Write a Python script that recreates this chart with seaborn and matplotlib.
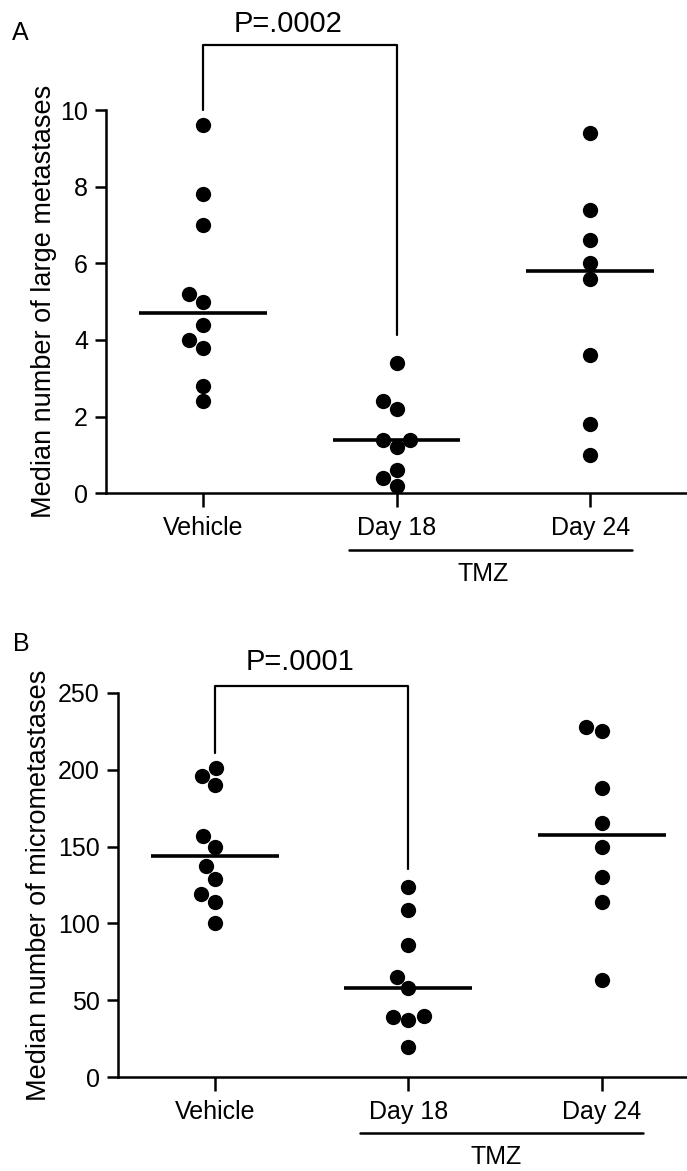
"""
TMZ 投与後の転移数（散布図 + 中央値ライン）
"""

import numpy as np
import pandas as pd
import matplotlib
matplotlib.use("Agg")
import matplotlib.pyplot as plt
import matplotlib.transforms as mtransforms
import seaborn as sns

# --- データ ---
groups = ["Vehicle", "Day 18", "Day 24"]

# A: large metastases
large_vehicle = [9.6, 7.8, 7.0, 5.2, 5.0, 4.4, 4.0, 3.8, 2.8, 2.4]
large_day18 = [3.4, 2.4, 2.2, 1.4, 1.4, 1.2, 0.6, 0.4, 0.2]
large_day24 = [9.4, 7.4, 6.6, 6.0, 5.6, 3.6, 1.8, 1.0]

# B: micrometastases
micro_vehicle = [201, 196, 190, 157, 150, 137.5, 129, 119, 114, 100]
micro_day18 = [124, 109, 86, 65, 58, 40, 39.5, 37, 20]
micro_day24 = [228, 225, 188, 165, 150, 130, 114, 63]

yticks_a = [0, 2, 4, 6, 8, 10]
yticks_b = [0, 50, 100, 150, 200, 250]


def to_long(vals_list):
    rows = []
    for g, vals in zip(groups, vals_list):
        for v in vals:
            rows.append({"group": g, "value": v})
    return pd.DataFrame(rows)


df_a = to_long([large_vehicle, large_day18, large_day24])
df_b = to_long([micro_vehicle, micro_day18, micro_day24])

sns.set_style("ticks")
plt.rcParams["font.family"] = ["Liberation Sans", "DejaVu Sans"]
plt.rcParams["text.color"] = "black"
plt.rcParams["axes.labelcolor"] = "black"
plt.rcParams["xtick.color"] = "black"
plt.rcParams["ytick.color"] = "black"

W, H = 687, 1171
fig = plt.figure(figsize=(W / 100, H / 100), dpi=100)


def px_axes(left, right, top, bottom):
    # ピクセル座標から axes の位置を作る
    return [left / W, 1 - bottom / H, (right - left) / W, (bottom - top) / H]


def draw_panel(ax, df, ylim, yticks, ylabel, label_x, bracket, ptext, ptext_y, tmz):
    sns.swarmplot(data=df, x="group", y="value", order=groups, color="black",
                  size=11, linewidth=0, ax=ax, clip_on=False, zorder=3)
    # 中央値ライン
    meds = df.groupby("group")["value"].median().reindex(groups).values
    for i, m in enumerate(meds):
        ax.plot([i - 0.33, i + 0.33], [m, m], color="black", lw=2.6,
                solid_capstyle="butt", zorder=4, clip_on=False)

    ax.set_xlim(-0.5, 2.5)
    ax.set_ylim(*ylim)
    ax.set_yticks(yticks)
    ax.set_xlabel("")
    ax.set_ylabel(ylabel, fontsize=19.5, va="center", color="black")
    ax.yaxis.set_label_coords(label_x, 0.5)
    sns.despine(ax=ax)
    for s in ["left", "bottom"]:
        ax.spines[s].set_linewidth(1.8)
        ax.spines[s].set_color("black")
    ax.tick_params(axis="y", length=8, width=1.8, pad=5, labelsize=18,
                   colors="black")
    ax.tick_params(axis="x", length=10, width=1.8, pad=6, labelsize=18,
                   colors="black")

    # 有意差ブラケット
    y_left, y_top, y_right = bracket
    ax.plot([0, 0, 1, 1], [y_left, y_top, y_top, y_right], color="black",
            lw=1.6, clip_on=False)
    ax.text(0.44, ptext_y, ptext, ha="center", va="baseline", fontsize=21,
            color="black")

    # TMZ ライン
    trans = mtransforms.blended_transform_factory(ax.transData, ax.transAxes)
    x0, x1, y_line, x_txt, y_txt = tmz
    ax.plot([x0, x1], [y_line, y_line], color="black", lw=1.8,
            transform=trans, clip_on=False)
    ax.text(x_txt, y_txt, "TMZ", ha="center", va="baseline", fontsize=18,
            color="black", transform=trans)


ax_a = fig.add_axes(px_axes(106, 687, 110, 493.3))
draw_panel(ax_a, df_a, (0, 10), yticks_a, "Median number of large metastases",
           -0.107, (10, 11.7, 4.13), "P=.0002", 12.04,
           (0.755, 2.217, -0.148, 1.445, -0.229))

ax_b = fig.add_axes(px_axes(118, 698.5, 692.7, 1077.3))
draw_panel(ax_b, df_b, (0, 250), yticks_b, "Median number of micrometastases",
           -0.136, (211, 254.4, 135.6), "P=.0001", 264.8,
           (0.749, 2.212, -0.144, 1.452, -0.226))

fig.text(12 / W, 1 - 40 / H, "A", fontsize=18, va="baseline", color="black")
fig.text(13 / W, 1 - 651 / H, "B", fontsize=18, va="baseline", color="black")

fig.savefig("out.png", dpi=100)
plt.close(fig)
